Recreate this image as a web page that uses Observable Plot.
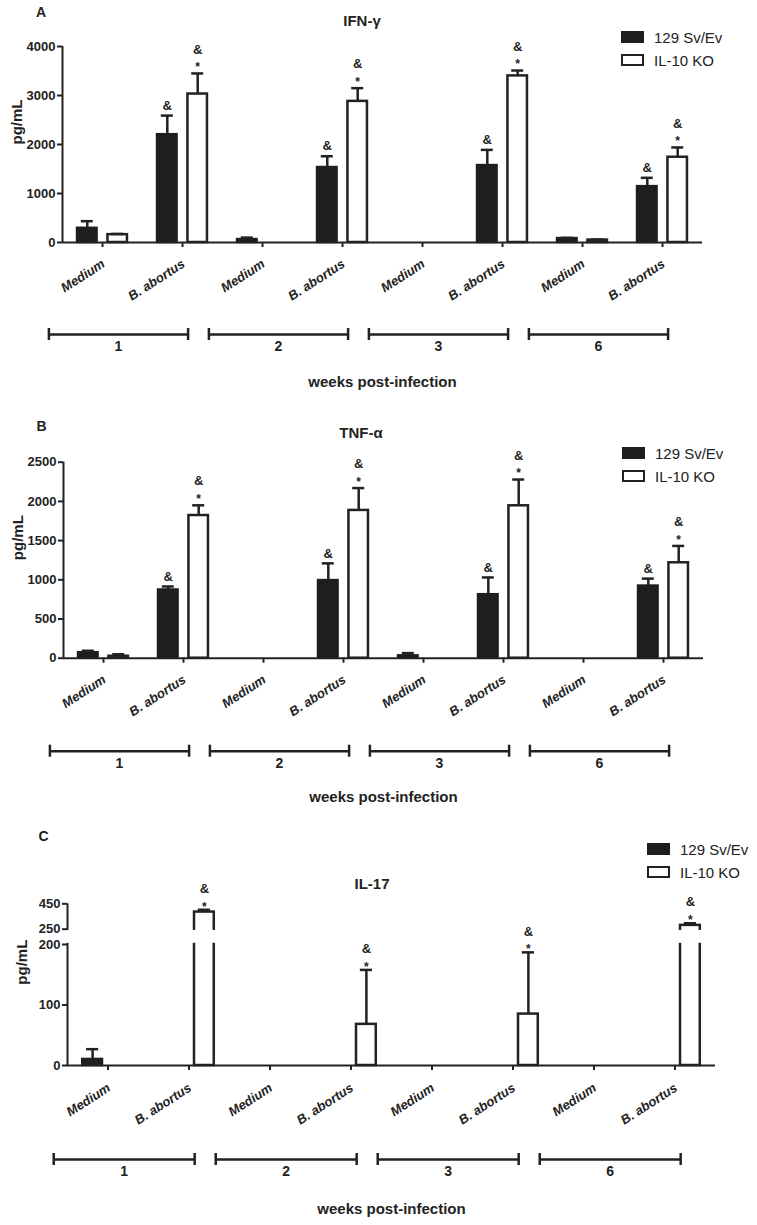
<!DOCTYPE html>
<html><head><meta charset="utf-8">
<script src="https://cdn.jsdelivr.net/npm/d3@7"></script>
<script src="https://cdn.jsdelivr.net/npm/@observablehq/plot@0.6"></script>
<style>
body{margin:0;background:#fff;}
#wrap{position:relative;width:757px;height:1225px;font-family:"Liberation Sans",Arial,Helvetica,sans-serif;color:#222;overflow:hidden;background:#fff;}
#wrap svg{position:absolute;left:0;}
.lbl{position:absolute;white-space:nowrap;line-height:1;}
.c{transform:translate(-50%,-50%);}
.l{transform:translate(0,-50%);}
.sw{position:absolute;width:23px;height:12px;box-sizing:border-box;}
</style></head><body><div id="wrap"></div>
<script>
// ---- data ----
const conditions = ["Medium", "B. abortus"];
const weeks = ["1", "2", "3", "6"];
const strains = ["129 Sv/Ev", "IL-10 KO"];
const axisTitle = "weeks post-infection";
const yLabel = "pg/mL";

// IFN-γ
const ifnWT     = [290, 2200, 60, 1530, 0, 1570, 80, 1140];
const ifnWTErr  = [145, 390, 40, 230, 0, 320, 15, 180];
const ifnKO     = [160, 3030, 0, 2880, 0, 3400, 50, 1740];
const ifnKOErr  = [15, 420, 0, 270, 0, 110, 10, 200];
const ifnWTSig  = ["", "&", "", "&", "", "&", "", "&"];
const ifnKOSig  = ["", "&*", "", "&*", "", "&*", "", "&*"];
const ifnTicks  = [0, 1000, 2000, 3000, 4000];

// TNF-α
const tnfWT     = [70, 870, 0, 990, 30, 810, 0, 920];
const tnfWTErr  = [25, 45, 0, 220, 35, 220, 0, 95];
const tnfKO     = [25, 1820, 0, 1885, 0, 1944, 0, 1217];
const tnfKOErr  = [25, 130, 0, 285, 0, 335, 0, 215];
const tnfWTSig  = ["", "&", "", "&", "", "&", "", "&"];
const tnfKOSig  = ["", "&*", "", "&*", "", "&*", "", "&*"];
const tnfTicks  = [0, 500, 1000, 1500, 2000, 2500];

// IL-17 (broken axis)
const il17WT    = [10, 0, 0, 0, 0, 0, 0, 0];
const il17WTErr = [17, 0, 0, 0, 0, 0, 0, 0];
const il17KO    = [0, 385, 0, 68, 0, 85, 0, 280];
const il17KOErr = [0, 18, 0, 90, 0, 102, 0, 17];
const il17WTSig = ["", "", "", "", "", "", "", ""];
const il17KOSig = ["", "&*", "", "&*", "", "&*", "", "&*"];
const il17Ticks = [0, 100, 200, 250, 450];
const il17Break = [200, 250];

// ---- drawing ----
const ink = "#222";
const dark = "#1e1e1e";
const font = "Liberation Sans, Arial, Helvetica, sans-serif";
const wrap = document.getElementById("wrap");
const xDomain = [-0.5, 7.5];
const off = [-0.19, 0.19], half = 0.122, capHalf = 0.075;

function label(text, x, y, cls, style) {
  const d = document.createElement("div");
  d.className = "lbl " + cls;
  d.textContent = text;
  d.style.left = x + "px"; d.style.top = y + "px";
  Object.assign(d.style, style || {});
  wrap.appendChild(d);
}

function panel(cfg) {
  const cats = d3.range(8).map(i => ({i, cond: conditions[i % 2], week: weeks[Math.floor(i / 2)]}));
  const rows = [];
  cats.forEach(({i}) => {
    rows.push({i, s: 0, value: cfg.wt[i], err: cfg.wtErr[i], sig: cfg.wtSig[i]});
    rows.push({i, s: 1, value: cfg.ko[i], err: cfg.koErr[i], sig: cfg.koSig[i]});
  });
  const cx = d => d.i + off[d.s];
  const top = d => d.value + d.err;
  const wk = weeks.map((w, g) => ({w, g}));
  const ends = wk.flatMap(({g}) => [2 * g - 0.67, 2 * g + 1.07]);
  const sdy = cfg.starDy, ady = cfg.ampDy;

  const marks = [
    Plot.ruleX([xDomain[0]], {stroke: ink, strokeWidth: 2}),
    Plot.rect(rows.filter(d => d.s === 0 && d.value > 0), {x1: d => cx(d) - half, x2: d => cx(d) + half, y1: 0, y2: "value", fill: dark, stroke: dark, strokeWidth: 2.5}),
    Plot.rect(rows.filter(d => d.s === 1 && d.value > 0), {x1: d => cx(d) - half, x2: d => cx(d) + half, y1: 0, y2: "value", fill: "#fff", stroke: ink, strokeWidth: 2.5}),
    Plot.ruleX(rows.filter(d => d.err > 0), {x: cx, y1: "value", y2: top, stroke: ink, strokeWidth: 2.5}),
    Plot.ruleY(rows.filter(d => d.err > 0), {y: top, x1: d => cx(d) - capHalf, x2: d => cx(d) + capHalf, stroke: ink, strokeWidth: 2.5}),
  ];
  if (cfg.brk) {
    marks.push(Plot.rect([cfg.brk], {y1: d => d[0] + 4, y2: d => d[1] - 4, fill: "#fff", insetLeft: -4}));
  }
  marks.push(
    // y ticks + labels
    Plot.ruleY(cfg.ticks, {y: d => d, x1: xDomain[0], x2: xDomain[0], insetLeft: -5, stroke: ink, strokeWidth: 2}),
    Plot.text(cfg.ticks, {y: d => d, frameAnchor: "left", dx: -7, textAnchor: "end", text: d => String(d), fontSize: 13, fontWeight: "bold", fill: ink}),
    Plot.text([yLabel], {frameAnchor: "left", dx: -45, rotate: -90, fontSize: 15, fontWeight: "bold", fill: ink}),
    // x baseline + ticks + labels
    Plot.ruleY([0], {stroke: ink, strokeWidth: 2}),
    Plot.ruleX(cats, {x: "i", y1: 0, y2: 0, insetBottom: -5, stroke: ink, strokeWidth: 2}),
    Plot.text(cats, {x: "i", y: 0, dy: cfg.labDy, dx: 1, rotate: -33, textAnchor: "end", text: "cond", fontSize: 13, fontWeight: "bold", fontStyle: "italic", fill: ink}),
    // significance marks
    Plot.text(rows.filter(d => d.s === 0 && d.sig.includes("&")), {x: cx, y: top, dy: -10, text: () => "&", fontSize: 13, fontWeight: "bold", fill: ink}),
    Plot.text(rows.filter(d => d.s === 1 && d.sig.includes("*")), {x: cx, y: top, dy: sdy, text: () => "*", fontSize: 12, fontWeight: "bold", fill: ink}),
    Plot.text(rows.filter(d => d.s === 1 && d.sig.includes("&")), {x: cx, y: top, dy: ady, text: () => "&", fontSize: 13, fontWeight: "bold", fill: ink}),
    // week brackets
    Plot.ruleY(wk, {x1: d => 2 * d.g - 0.67, x2: d => 2 * d.g + 1.07, y: 0, dy: cfg.brDy, stroke: ink, strokeWidth: 2.5}),
    Plot.ruleX(ends, {x: d => d, y1: 0, y2: 0, insetTop: -6, insetBottom: -6, dy: cfg.brDy, stroke: ink, strokeWidth: 2.5}),
    Plot.text(wk, {x: d => 2 * d.g + 0.2, y: 0, dy: cfg.brDy + 12, text: "w", fontSize: 14, fontWeight: "bold", fill: ink}),
    Plot.text([axisTitle], {frameAnchor: "bottom", dy: cfg.wkDy, fontSize: 15, fontWeight: "bold", fill: ink})
  );

  const svg = Plot.plot({
    width: 757, height: cfg.height,
    marginLeft: cfg.ml, marginRight: cfg.mr, marginTop: cfg.mt, marginBottom: cfg.mb,
    x: {domain: xDomain, axis: null},
    y: Object.assign({axis: null}, cfg.y),
    style: {fontFamily: font, background: "transparent", overflow: "visible"},
    marks
  });
  svg.style.top = cfg.top + "px";
  wrap.appendChild(svg);

  // titles and legend (HTML)
  label(cfg.letter, cfg.letterX, cfg.letterY, "c", {fontSize: "14px", fontWeight: "bold"});
  label(cfg.title, cfg.titleX, cfg.titleY, "c", {fontSize: "15px", fontWeight: "bold"});
  const s1 = document.createElement("div"); s1.className = "sw";
  Object.assign(s1.style, {left: cfg.legX + "px", top: (cfg.legY - 6) + "px", background: dark});
  const s2 = document.createElement("div"); s2.className = "sw";
  Object.assign(s2.style, {left: cfg.legX + "px", top: (cfg.legY + 17) + "px", background: "#fff", border: "2.5px solid " + ink});
  wrap.appendChild(s1); wrap.appendChild(s2);
  label(strains[0], cfg.legX + 33, cfg.legY, "l", {fontSize: "15px"});
  label(strains[1], cfg.legX + 33, cfg.legY + 23, "l", {fontSize: "15px"});
}

panel({
  top: 0, height: 395, ml: 62, mr: 55, mt: 46, mb: 153,
  y: {domain: [0, 4000]},
  wt: ifnWT, wtErr: ifnWTErr, ko: ifnKO, koErr: ifnKOErr, wtSig: ifnWTSig, koSig: ifnKOSig, ticks: ifnTicks,
  starDy: -6, ampDy: -24, labDy: 20, brDy: 92, wkDy: 144,
  letter: "A", letterX: 41, letterY: 12, title: "IFN-γ", titleX: 362, titleY: 20, legX: 621, legY: 37
});
panel({
  top: 400, height: 410, ml: 63, mr: 54, mt: 61.7, mb: 152.3,
  y: {domain: [0, 2500]},
  wt: tnfWT, wtErr: tnfWTErr, ko: tnfKO, koErr: tnfKOErr, wtSig: tnfWTSig, koSig: tnfKOSig, ticks: tnfTicks,
  starDy: -6, ampDy: -24, labDy: 20, brDy: 93, wkDy: 144,
  letter: "B", letterX: 41.5, letterY: 426, title: "TNF-α", titleX: 361, titleY: 432, legX: 622, legY: 453
});
panel({
  top: 810, height: 415, ml: 67, mr: 42, mt: 93.3, mb: 160,
  y: {type: "linear", domain: [0, il17Break[0], il17Break[1], 450], range: [255, 134, 118.7, 93.3]},
  brk: il17Break,
  wt: il17WT, wtErr: il17WTErr, ko: il17KO, koErr: il17KOErr, wtSig: il17WTSig, koSig: il17KOSig, ticks: il17Ticks,
  starDy: -3, ampDy: -21, labDy: 21, brDy: 94, wkDy: 148,
  letter: "C", letterX: 43.5, letterY: 836, title: "IL-17", titleX: 372, titleY: 883, legX: 647, legY: 849
});
</script></body></html>
